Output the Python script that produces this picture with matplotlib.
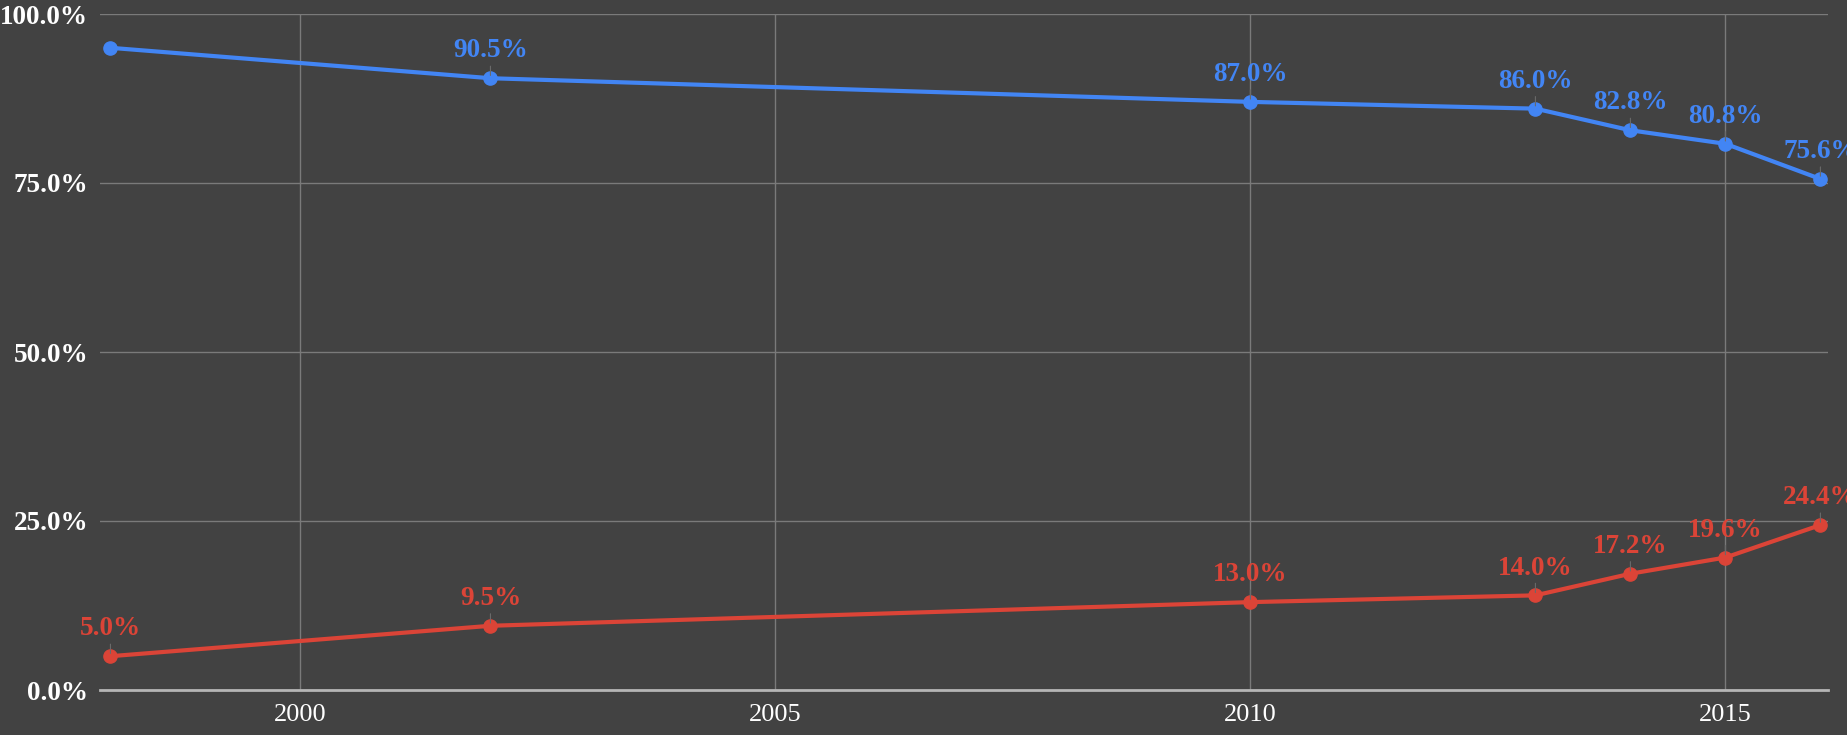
import matplotlib
matplotlib.use("Agg")
import matplotlib.pyplot as plt
from matplotlib.ticker import FuncFormatter

years = [1998, 2002, 2010, 2013, 2014, 2015, 2016]
blue_vals = [95.0, 90.5, 87.0, 86.0, 82.8, 80.8, 75.6]
red_vals = [5.0, 9.5, 13.0, 14.0, 17.2, 19.6, 24.4]
blue_labels = [None, "90.5%", "87.0%", "86.0%", "82.8%", "80.8%", "75.6%"]
red_labels = ["5.0%", "9.5%", "13.0%", "14.0%", "17.2%", "19.6%", "24.4%"]
x_ticks = [2000, 2005, 2010, 2015]
y_ticks = [0, 25, 50, 75, 100]

BG = "#424242"
BLUE = "#4285F4"
RED = "#DB4437"

plt.rcParams['font.family'] = ['Liberation Serif', 'DejaVu Serif']

fig = plt.figure(figsize=(18.47, 7.35), dpi=100, facecolor=BG)
ax = fig.add_axes([100/1847, 45/735, (1828-100)/1847, (690-14)/735])
ax.set_facecolor(BG)

for vals, labels, col in [(blue_vals, blue_labels, BLUE), (red_vals, red_labels, RED)]:
    ax.plot(years, vals, color=col, lw=3.0, marker='o', ms=9.5, zorder=3,
            solid_capstyle='round')
    for x, y, lab in zip(years, vals, labels):
        if lab is None:
            continue
        ax.annotate(lab, xy=(x, y), xytext=(0, 15), textcoords='offset points',
                    ha='center', va='baseline', color=col, fontsize=19.5,
                    fontweight='bold', annotation_clip=False, zorder=4,
                    arrowprops=dict(arrowstyle='-', color='#6a6a6a', lw=0.8,
                                    shrinkA=0, shrinkB=2))

ax.set_xlim(1997.89, 2016.08)
ax.set_ylim(0, 100)
ax.set_xticks(x_ticks)
ax.set_yticks(y_ticks)
ax.yaxis.set_major_formatter(FuncFormatter(lambda v, p: f"{v:.1f}%"))
ax.grid(True, color='#7a7a7a', lw=1.0, zorder=0)
ax.set_axisbelow(True)
for s in ['top', 'right', 'left']:
    ax.spines[s].set_visible(False)
ax.spines['bottom'].set_color('#b5b5b5')
ax.spines['bottom'].set_linewidth(2)
ax.tick_params(axis='both', length=0)
ax.tick_params(axis='y', pad=8.5, labelsize=19.5, labelcolor='white')
ax.tick_params(axis='x', pad=10, labelsize=19, labelcolor='white')
for t in ax.get_yticklabels():
    t.set_fontweight('bold')

fig.savefig("out.png", dpi=100, facecolor=BG)
